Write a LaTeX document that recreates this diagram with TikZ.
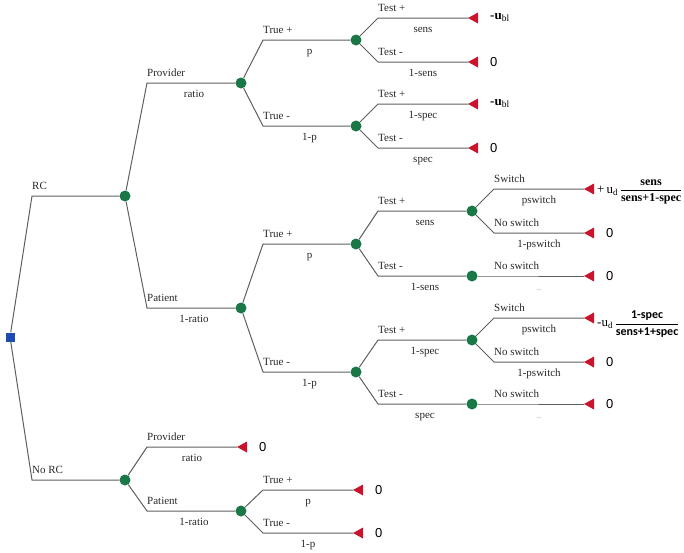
\documentclass[tikz,border=0pt]{standalone}
\usepackage{amsmath}
\usepackage{fontspec}
\setmainfont{Liberation Serif}
\newfontfamily\valfont{Liberation Sans}
\newfontfamily\calfont{Carlito}
\usetikzlibrary{calc}
\definecolor{edgec}{RGB}{95,95,95}
\definecolor{chancec}{RGB}{25,120,70}
\definecolor{termc}{RGB}{200,20,45}
\definecolor{rootc}{RGB}{30,75,175}
\definecolor{labc}{RGB}{40,40,40}
% branch: from, corner x, corner y, to, top label, bottom label
\newcommand{\mybranch}[6]{%
  \draw[edge] (#1) -- (#2,#3) -- (#4);
  \node[lab, anchor=base west] (#4-top) at (#2,#3-7) {#5};
  \node[lab, anchor=base] (#4-prob) at ($(#2,#3)!0.5!(#4)+(0,14.5)$) {#6};
}
% terminal: name, x, y, value
\newcommand{\myterm}[4]{%
  \coordinate (#1) at (#2,#3);
  \fill[termfill] (#1) -- ++(10,-5.5) -- ++(0,11) -- cycle;
  \node[val, anchor=west] (#1-val) at (#2+22,#3) {#4};
}
\newcommand{\ubl}{\rmfamily\bfseries -u\raisebox{-2pt}{\mdseries\fontsize{9.5}{10}\selectfont bl}}
\begin{document}
\begin{tikzpicture}[x=1pt,y=-1pt,
  edge/.style={draw=edgec, line width=1pt},
  chance/.style={circle, fill=chancec, inner sep=0pt, minimum size=11pt},
  rootbox/.style={rectangle, fill=rootc, inner sep=0pt, minimum width=9pt, minimum height=9pt},
  lab/.style={font=\fontsize{11}{12}\selectfont, text=labc, inner sep=0pt},
  val/.style={font=\valfont\fontsize{13}{14}\selectfont, inner sep=0pt},
  termfill/.style={fill=termc}]
\useasboundingbox (0,0) rectangle (684,552);

% decision and chance nodes
\node[rootbox] (R) at (10,337) {};
\node[chance] (RC) at (125,196) {};
\node[chance] (NRC) at (125,480) {};
\node[chance] (Prov) at (241,83) {};
\node[chance] (Pat) at (241,308) {};
\node[chance] (Pp) at (356,40) {};
\node[chance] (Pn) at (356,126) {};
\node[chance] (Qp) at (356,244) {};
\node[chance] (Qn) at (356,372) {};
\node[chance] (Ca) at (472,211) {};
\node[chance] (Cb) at (472,276) {};
\node[chance] (Cc) at (472,340) {};
\node[chance] (Cd) at (472,404) {};
\node[chance] (Ce) at (241,511) {};

% terminals
\myterm{T1}{468}{18}{\ubl}
\myterm{T2}{468}{62}{0}
\myterm{T3}{468}{104}{\ubl}
\myterm{T4}{468}{148}{0}
\coordinate (T5) at (584,189);
\fill[termfill] (T5) -- ++(10,-5.5) -- ++(0,11) -- cycle;
\myterm{T6}{584}{233}{0}
\myterm{T7}{584}{276}{0}
\coordinate (T8) at (584,318);
\fill[termfill] (T8) -- ++(10,-5.5) -- ++(0,11) -- cycle;
\myterm{T9}{584}{362}{0}
\myterm{T10}{584}{404}{0}
\myterm{T11}{237}{447}{0}
\myterm{T12}{353}{490}{0}
\myterm{T13}{353}{533}{0}

% formulas
\node[anchor=west, inner sep=0pt] (F1) at (597,192)
  {\fontsize{13}{14}\selectfont +\,u\raisebox{-2pt}{\fontsize{9}{9}\selectfont d}\,$\dfrac{\text{\bfseries\fontsize{12}{13}\selectfont sens}}{\text{\bfseries\fontsize{12}{13}\selectfont sens+1-spec}}$};
\node[anchor=west, inner sep=0pt] (F2) at (597,324)
  {\fontsize{13}{14}\selectfont -u\raisebox{-2pt}{\fontsize{9}{9}\selectfont d}\,$\dfrac{\text{\calfont\bfseries\fontsize{12}{13}\selectfont 1-spec}}{\text{\calfont\bfseries\fontsize{12}{13}\selectfont sens+1+spec}}$};

% branches
\mybranch{R}{32}{196}{RC}{RC}{}
\mybranch{R}{32}{480}{NRC}{No RC}{}
\mybranch{RC}{147}{83}{Prov}{Provider}{ratio}
\mybranch{RC}{147}{308}{Pat}{Patient}{1-ratio}
\mybranch{Prov}{263}{40}{Pp}{True +}{p}
\mybranch{Prov}{263}{126}{Pn}{True -}{1-p}
\mybranch{Pp}{378}{18}{T1}{Test +}{sens}
\mybranch{Pp}{378}{62}{T2}{Test -}{1-sens}
\mybranch{Pn}{378}{104}{T3}{Test +}{1-spec}
\mybranch{Pn}{378}{148}{T4}{Test -}{spec}
\mybranch{Pat}{263}{244}{Qp}{True +}{p}
\mybranch{Pat}{263}{372}{Qn}{True -}{1-p}
\mybranch{Qp}{378}{211}{Ca}{Test +}{sens}
\mybranch{Qp}{378}{276}{Cb}{Test -}{1-sens}
\mybranch{Ca}{494}{189}{T5}{Switch}{pswitch}
\mybranch{Ca}{494}{233}{T6}{No switch}{1-pswitch}
\mybranch{Cb}{494}{276}{T7}{No switch}{\fontsize{7}{8}\selectfont\color{gray}...}
\mybranch{Qn}{378}{340}{Cc}{Test +}{1-spec}
\mybranch{Qn}{378}{404}{Cd}{Test -}{spec}
\mybranch{Cc}{494}{318}{T8}{Switch}{pswitch}
\mybranch{Cc}{494}{362}{T9}{No switch}{1-pswitch}
\mybranch{Cd}{494}{404}{T10}{No switch}{\fontsize{7}{8}\selectfont\color{gray}...}
\mybranch{NRC}{147}{447}{T11}{Provider}{ratio}
\mybranch{NRC}{147}{511}{Ce}{Patient}{1-ratio}
\mybranch{Ce}{263}{490}{T12}{True +}{p}
\mybranch{Ce}{263}{533}{T13}{True -}{1-p}
\end{tikzpicture}
\end{document}
